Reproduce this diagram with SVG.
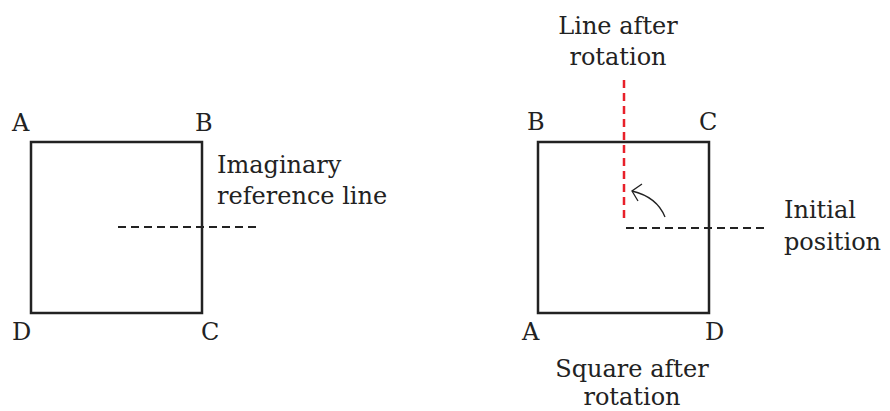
<svg xmlns="http://www.w3.org/2000/svg" width="890" height="411" viewBox="0 0 890 411">
<style>
text{font-family:"DejaVu Serif","Liberation Serif",serif;font-size:24px;fill:#222}
.sq{fill:none;stroke:#222;stroke-width:2.5}
.dash{stroke:#222;stroke-width:2;stroke-dasharray:8 5;fill:none}
.red{stroke:#e8202a;stroke-width:2.5;stroke-dasharray:8 5;fill:none}
.arc{stroke:#222;stroke-width:1.3;fill:none}
</style>
<rect width="890" height="411" fill="#fff"/>
<g id="square-initial">
<rect class="sq" x="31" y="142" width="171" height="171"/>
<text x="12" y="131">A</text>
<text x="195" y="131">B</text>
<text x="201" y="340">C</text>
<text x="12" y="340">D</text>
</g>
<g id="label-reference">
<text x="217" y="173">Imaginary</text>
<text x="217" y="204">reference line</text>
</g>
<g id="square-rotated">
<rect class="sq" x="538" y="142" width="171" height="171"/>
<text x="527" y="130">B</text>
<text x="699" y="130">C</text>
<text x="522" y="340">A</text>
<text x="705" y="340">D</text>
</g>
<g id="label-line-after" text-anchor="middle">
<text x="618" y="34">Line after</text>
<text x="618" y="65">rotation</text>
</g>
<g id="label-initial">
<text x="784" y="218">Initial</text>
<text x="784" y="250">position</text>
</g>
<g id="label-square-after" text-anchor="middle">
<text x="632" y="377">Square after</text>
<text x="632" y="405">rotation</text>
</g>
<g id="connectors">
<line class="dash" x1="118" y1="227" x2="261" y2="227"/>
<line class="dash" x1="626" y1="228" x2="768" y2="228"/>
<line class="red" x1="624" y1="80" x2="624" y2="221"/>
<path class="arc" d="M665 217 Q657 197 632 191"/>
<path class="arc" d="M642 184 L632 191 L638 201"/>
</g>
</svg>
